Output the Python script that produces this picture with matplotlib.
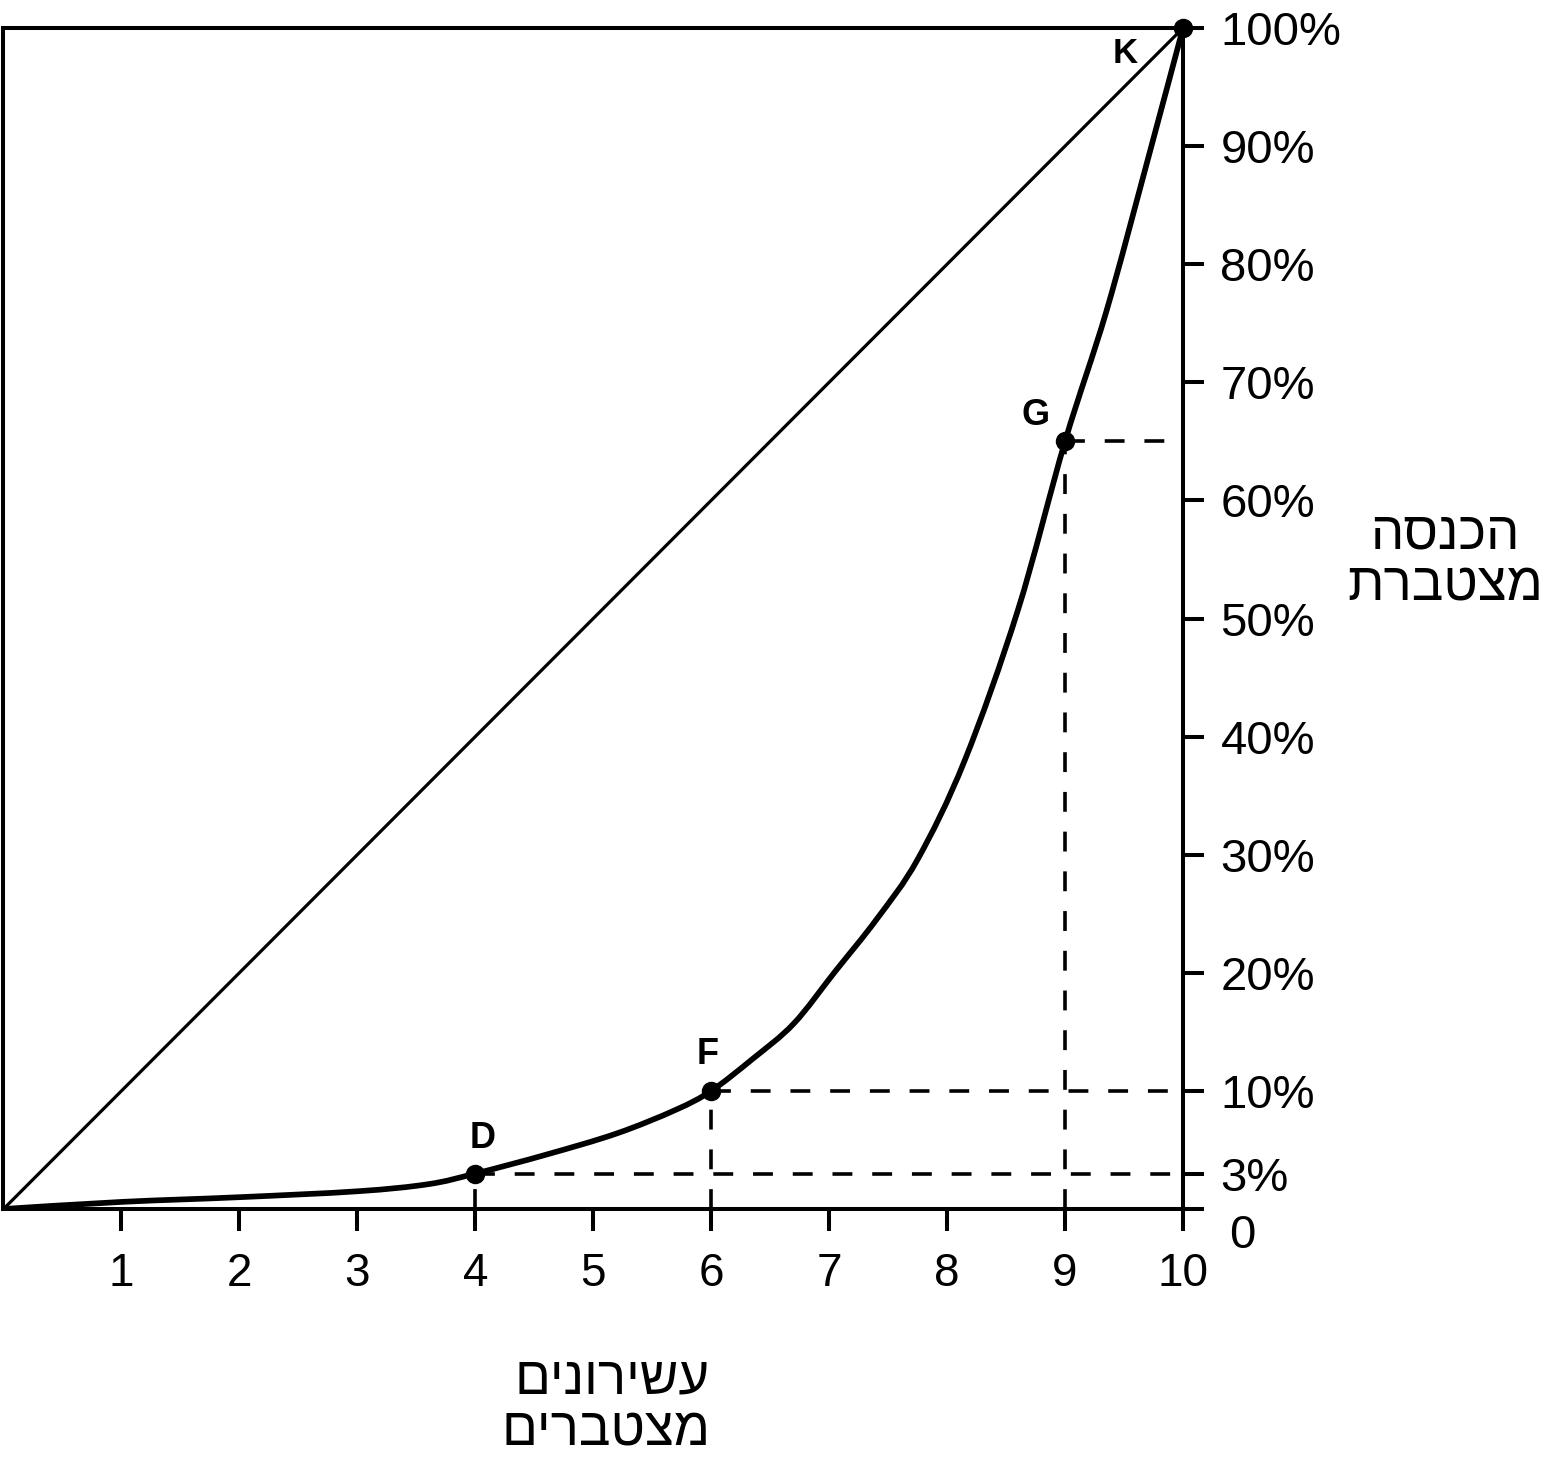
import matplotlib
matplotlib.use("Agg")
import matplotlib.pyplot as plt
from matplotlib.path import Path
from matplotlib.patches import PathPatch

plt.rcParams['font.family'] = ['Liberation Sans', 'DejaVu Sans']

# Lorenz curve (decile, cumulative income %)
deciles = [0, 1, 2, 3, 3.6, 4, 4.6, 5.2, 5.7, 6, 6.35, 6.7, 7.05, 7.4, 7.75,
           8.15, 8.6, 9, 9.35, 9.7, 10]
income = [0, 0.6, 1.0, 1.5, 2.1, 3, 4.6, 6.4, 8.4, 10, 12.7, 15.7, 20.1, 24.5,
          29.6, 38, 50.7, 65, 76, 88.8, 100]

# marked points
pt_names = ["D", "F", "G", "K"]
pt_x = [4, 6, 9, 10]
pt_y = [3, 10, 65, 100]

x_ticks = [1, 2, 3, 4, 5, 6, 7, 8, 9, 10]
y_ticks = [0, 3, 10, 20, 30, 40, 50, 60, 70, 80, 90, 100]
y_labels = ["", "3%", "10%", "20%", "30%", "40%", "50%", "60%", "70%", "80%", "90%", "100%"]

x_title = "עשירונים\nמצטברים"
y_title = "הכנסה\nמצטברת"


def rtl(s):
    # matplotlib lays glyphs left to right, so flip each line for Hebrew
    return "\n".join(line[::-1] for line in s.split("\n"))


def smooth_path(xs, ys):
    # Catmull-Rom through the read points, drawn as cubic Bezier segments
    pts = list(zip(xs, ys))
    verts = [pts[0]]
    codes = [Path.MOVETO]
    n = len(pts)
    for i in range(n - 1):
        p0 = pts[i - 1] if i > 0 else pts[i]
        p1 = pts[i]
        p2 = pts[i + 1]
        p3 = pts[i + 2] if i + 2 < n else pts[i + 1]
        c1 = (p1[0] + (p2[0] - p0[0]) / 6, p1[1] + (p2[1] - p0[1]) / 6)
        c2 = (p2[0] - (p3[0] - p1[0]) / 6, p2[1] - (p3[1] - p1[1]) / 6)
        verts += [c1, c2, p2]
        codes += [Path.CURVE4] * 3
    return Path(verts, codes)


W, H = 1557, 1470
fig = plt.figure(figsize=(W / 100, H / 100), dpi=100)
ax = fig.add_axes([3.5 / W, (H - 1209) / H, (1183 - 3.5) / W, (1209 - 28) / H])

ax.set_xlim(0, 10)
ax.set_ylim(0, 100)

# equality line and Lorenz curve
ax.plot([0, 10], [0, 100], color="black", lw=2.3, solid_capstyle="butt")
ax.add_patch(PathPatch(smooth_path(deciles, income), fill=False,
                       edgecolor="black", lw=4.1, joinstyle="round"))

# dashed guides
dash = dict(color="black", lw=2.6, ls=(0, (5.5, 5.5)))
for x, y in zip(pt_x[:3], pt_y[:3]):
    ax.plot([x, 10], [y, y], **dash)
    ax.plot([x, x], [0, y], **dash)

ax.plot(pt_x, pt_y, "o", color="black", ms=13, clip_on=False, zorder=5)

lab_off = {"D": (0.06, 2.95), "F": (-0.03, 3.1), "G": (-0.25, 2.2), "K": (-0.49, -2.2)}
lab_size = {"D": 26, "F": 26, "G": 26, "K": 25}
for n, x, y in zip(pt_names, pt_x, pt_y):
    dx, dy = lab_off[n]
    ax.text(x + dx, y + dy, n, fontsize=lab_size[n], fontweight="bold",
            ha="center", va="center")

for s in ax.spines.values():
    s.set_linewidth(2.9)

ax.set_xticks(x_ticks)
ax.set_xticklabels([str(t) for t in x_ticks])
ax.tick_params(axis="x", direction="out", length=16, width=2.9, pad=15,
               labelsize=33)

ax.yaxis.tick_right()
ax.set_yticks(y_ticks)
ax.set_yticklabels(y_labels)
ax.tick_params(axis="y", direction="out", length=15, width=2.9, pad=12,
               labelsize=34)

ax.text(10.5, -2.3, "0", fontsize=34, ha="center", va="center")

fig.text(1445 / W, 1 - 560 / H, rtl(y_title), fontsize=38, ha="center",
         va="center", multialignment="center", linespacing=1.05)
fig.text(710 / W, 1 - 1405 / H, rtl(x_title), fontsize=38, ha="right",
         va="center", multialignment="right", linespacing=1.05)

fig.savefig("out.png", dpi=100)
